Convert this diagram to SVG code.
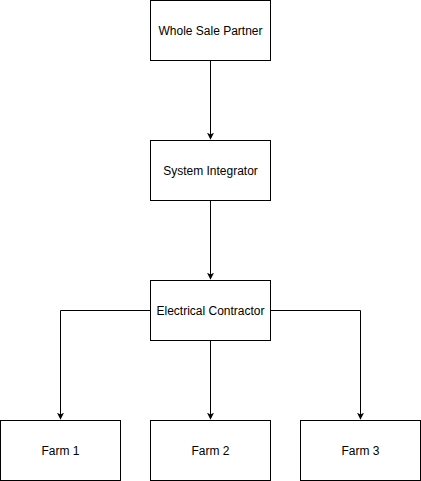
<svg xmlns="http://www.w3.org/2000/svg" width="421" height="481" viewBox="0 0 421 481">
<defs>
<style>
.box{fill:#fff;stroke:#000;stroke-width:1}
.lbl{font-family:"Liberation Sans",Arial,Helvetica,sans-serif;font-size:12px;fill:#000;text-anchor:middle;dominant-baseline:central}
.edge{fill:none;stroke:#000;stroke-width:1}
</style>
<marker id="arr" viewBox="0 0 10 10" refX="9" refY="5" markerWidth="7" markerHeight="7" markerUnits="userSpaceOnUse" orient="auto">
<path d="M0,0 L10,5 L0,10 L2.5,5 Z" fill="#000"/>
</marker>
</defs>
<rect width="421" height="481" fill="#fff"/>
<g id="connectors">
<path class="edge" d="M210.5,60.5 L210.5,139" marker-end="url(#arr)"/>
<path class="edge" d="M210.5,200.5 L210.5,279" marker-end="url(#arr)"/>
<path class="edge" d="M210.5,340.5 L210.5,419" marker-end="url(#arr)"/>
<path class="edge" d="M150.5,310.5 L60.5,310.5 L60.5,419" marker-end="url(#arr)"/>
<path class="edge" d="M270.5,310.5 L360.5,310.5 L360.5,419" marker-end="url(#arr)"/>
</g>
<g id="wholesale"><rect class="box" x="150.5" y="0.5" width="120" height="60"/><text class="lbl" x="210.5" y="30.5">Whole Sale Partner</text></g>
<g id="integrator"><rect class="box" x="150.5" y="140.5" width="120" height="60"/><text class="lbl" x="210.5" y="170.5">System Integrator</text></g>
<g id="contractor"><rect class="box" x="150.5" y="280.5" width="120" height="60"/><text class="lbl" x="210.5" y="310.5">Electrical Contractor</text></g>
<g id="farm1"><rect class="box" x="0.5" y="420.5" width="120" height="60"/><text class="lbl" x="60.5" y="450.5">Farm 1</text></g>
<g id="farm2"><rect class="box" x="150.5" y="420.5" width="120" height="60"/><text class="lbl" x="210.5" y="450.5">Farm 2</text></g>
<g id="farm3"><rect class="box" x="300.5" y="420.5" width="120" height="60"/><text class="lbl" x="360.5" y="450.5">Farm 3</text></g>
</svg>
